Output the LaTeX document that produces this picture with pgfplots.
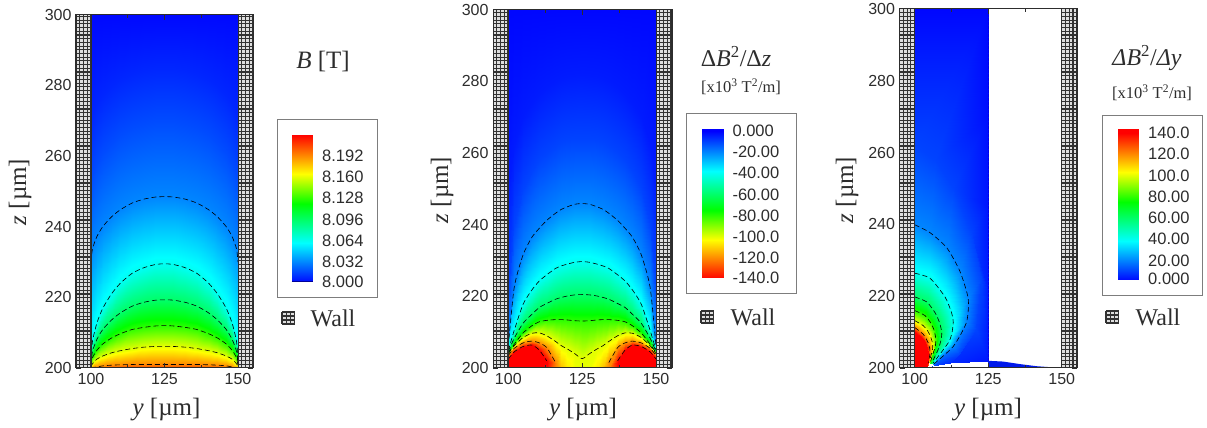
\documentclass[border=0pt]{standalone}
\usepackage{fontspec}
\setmainfont{Liberation Serif}
\newfontfamily\arial{Liberation Sans}
\usepackage{pgfplots}
\usepackage{pgfplotstable}
\pgfplotsset{compat=1.18}
\definecolor{ink}{RGB}{45,45,45}
\definecolor{cellc}{RGB}{222,222,222}
\definecolor{linec}{RGB}{50,50,50}
\definecolor{boxc}{RGB}{125,125,125}
\definecolor{lensc}{RGB}{0,25,235}
\definecolor{edgec}{RGB}{0,0,235}
\pgfplotsset{
  colormap={up}{rgb255(0)=(0,0,255) rgb255(38)=(0,255,255) rgb255(75)=(0,255,0) rgb255(103)=(255,255,0) rgb255(140)=(255,0,0)},
  colormap={down}{rgb255(0)=(255,0,0) rgb255(37)=(255,255,0) rgb255(65)=(0,255,0) rgb255(102)=(0,255,255) rgb255(140)=(0,0,255)},
  field/.style={scale only axis, anchor=south west, axis on top,
    xtick={100,125,150}, minor xtick={112.5,137.5},
    ytick={200,220,240,260,280,300}, ymin=200, ymax=300,
    tick pos=both, tick align=inside, xticklabel pos=bottom, yticklabel pos=left,
    major tick length=5pt, minor tick length=3pt,
    tick style={ink, line width=.7pt},
    axis line style={ink, line width=1pt},
    tick label style={font=\arial\fontsize{16}{16}\selectfont, text=ink},
    xticklabels={100,125,150}, yticklabels={200,220,240,260,280,300},
    xticklabel style={yshift=-2pt}, yticklabel style={xshift=-1pt}},
  bar/.style={scale only axis, anchor=south west, width=21pt, xmin=0, xmax=1,
    xtick=\empty, axis line style={draw=none}, tick style={draw=none},
    ytick pos=right, yticklabel pos=right,
    tick label style={font=\arial\fontsize{16.5}{16.5}\selectfont, text=ink},
    yticklabel style={anchor=west, xshift=6pt}},
  cont/.style={black, line width=.6pt, dash pattern=on 5pt off 3pt, smooth, tension=.4, no markers, forget plot}
}
\pgfplotstableread[row sep=\\]{
y z v\\
100 300 8.002\\ 100.5 300 8.002\\ 102 300 8.002\\ 104 300 8.002\\ 107 300 8.002\\ 110 300 8.002\\ 114 300 8.002\\ 118 300 8.002\\ 122 300 8.002\\ 125 300 8.002\\ 128 300 8.002\\ 132 300 8.002\\ 136 300 8.002\\ 140 300 8.002\\ 143 300 8.002\\ 146 300 8.002\\ 148 300 8.002\\ 149.5 300 8.002\\ 150 300 8.002\\
100 268 8.009\\ 100.5 271.4 8.009\\ 102 274.6 8.009\\ 104 277.2 8.009\\ 107 279.7 8.009\\ 110 281.6 8.009\\ 114 283.3 8.009\\ 118 284.3 8.009\\ 122 284.9 8.009\\ 125 285 8.009\\ 128 284.9 8.009\\ 132 284.3 8.009\\ 136 283.3 8.009\\ 140 281.6 8.009\\ 143 279.7 8.009\\ 146 277.2 8.009\\ 148 274.6 8.009\\ 149.5 271.4 8.009\\ 150 268 8.009\\
100 250 8.018\\ 100.5 254 8.018\\ 102 257.8 8.018\\ 104 260.8 8.018\\ 107 263.8 8.018\\ 110 266 8.018\\ 114 268 8.018\\ 118 269.2 8.018\\ 122 269.9 8.018\\ 125 270 8.018\\ 128 269.9 8.018\\ 132 269.2 8.018\\ 136 268 8.018\\ 140 266 8.018\\ 143 263.8 8.018\\ 146 260.8 8.018\\ 148 257.8 8.018\\ 149.5 254 8.018\\ 150 250 8.018\\
100 230 8.032\\ 100.5 233.7 8.032\\ 102 237.2 8.032\\ 104 240 8.032\\ 107 242.8 8.032\\ 110 244.8 8.032\\ 114 246.7 8.032\\ 118 247.8 8.032\\ 122 248.4 8.032\\ 125 248.5 8.032\\ 128 248.4 8.032\\ 132 247.8 8.032\\ 136 246.7 8.032\\ 140 244.8 8.032\\ 143 242.8 8.032\\ 146 240 8.032\\ 148 237.2 8.032\\ 149.5 233.7 8.032\\ 150 230 8.032\\
100 202 8.064\\ 100.5 207.5 8.064\\ 102 212.7 8.064\\ 104 216.9 8.064\\ 107 221 8.064\\ 110 224 8.064\\ 114 226.8 8.064\\ 118 228.4 8.064\\ 122 229.3 8.064\\ 125 229.5 8.064\\ 128 229.3 8.064\\ 132 228.4 8.064\\ 136 226.8 8.064\\ 140 224 8.064\\ 143 221 8.064\\ 146 216.9 8.064\\ 148 212.7 8.064\\ 149.5 207.5 8.064\\ 150 202 8.064\\
100 201 8.096\\ 100.5 204.7 8.096\\ 102 208.1 8.096\\ 104 210.9 8.096\\ 107 213.6 8.096\\ 110 215.6 8.096\\ 114 217.5 8.096\\ 118 218.6 8.096\\ 122 219.2 8.096\\ 125 219.3 8.096\\ 128 219.2 8.096\\ 132 218.6 8.096\\ 136 217.5 8.096\\ 140 215.6 8.096\\ 143 213.6 8.096\\ 146 210.9 8.096\\ 148 208.1 8.096\\ 149.5 204.7 8.096\\ 150 201 8.096\\
100 200.6 8.128\\ 100.5 202.9 8.128\\ 102 205 8.128\\ 104 206.8 8.128\\ 107 208.5 8.128\\ 110 209.7 8.128\\ 114 210.9 8.128\\ 118 211.5 8.128\\ 122 211.9 8.128\\ 125 212 8.128\\ 128 211.9 8.128\\ 132 211.5 8.128\\ 136 210.9 8.128\\ 140 209.7 8.128\\ 143 208.5 8.128\\ 146 206.8 8.128\\ 148 205 8.128\\ 149.5 202.9 8.128\\ 150 200.6 8.128\\
100 200.3 8.16\\ 100.5 201.2 8.16\\ 102 202.5 8.16\\ 104 203.4 8.16\\ 107 204.3 8.16\\ 110 204.9 8.16\\ 114 205.5 8.16\\ 118 205.9 8.16\\ 122 206.1 8.16\\ 125 206.1 8.16\\ 128 206.1 8.16\\ 132 205.9 8.16\\ 136 205.5 8.16\\ 140 204.9 8.16\\ 143 204.3 8.16\\ 146 203.4 8.16\\ 148 202.5 8.16\\ 149.5 201.2 8.16\\ 150 200.3 8.16\\
100 200.05 8.192\\ 100.5 200.1 8.192\\ 102 200.3 8.192\\ 104 200.6 8.192\\ 107 200.8 8.192\\ 110 200.9 8.192\\ 114 201 8.192\\ 118 201 8.192\\ 122 201 8.192\\ 125 201 8.192\\ 128 201 8.192\\ 132 201 8.192\\ 136 201 8.192\\ 140 200.9 8.192\\ 143 200.8 8.192\\ 146 200.6 8.192\\ 148 200.3 8.192\\ 149.5 200.1 8.192\\ 150 200.05 8.192\\
100 200 8.12\\ 100.5 200 8.16\\ 102 200 8.2\\ 104 200 8.208\\ 107 200 8.208\\ 110 200 8.208\\ 114 200 8.208\\ 118 200 8.208\\ 122 200 8.208\\ 125 200 8.208\\ 128 200 8.208\\ 132 200 8.208\\ 136 200 8.208\\ 140 200 8.208\\ 143 200 8.208\\ 146 200 8.208\\ 148 200 8.2\\ 149.5 200 8.16\\ 150 200 8.12\\
}\tA
\pgfplotstableread[row sep=\\]{
y z v\\
100 300 -1\\ 102 300 -1\\ 105 300 -1\\ 108 300 -1\\ 110.5 300 -1\\ 113 300 -1\\ 116 300 -1\\ 118 300 -1\\ 120 300 -1\\ 122.5 300 -1\\ 125 300 -1\\ 127.5 300 -1\\ 130 300 -1\\ 132 300 -1\\ 134 300 -1\\ 137 300 -1\\ 139.5 300 -1\\ 142 300 -1\\ 145 300 -1\\ 148 300 -1\\ 150 300 -1\\
100 250 -4\\ 102 262 -4\\ 105 270 -4\\ 108 274 -4\\ 110.5 276.5 -4\\ 113 278.5 -4\\ 116 280 -4\\ 118 281 -4\\ 120 281.5 -4\\ 122.5 281.9 -4\\ 125 282 -4\\ 127.5 281.9 -4\\ 130 281.5 -4\\ 132 281 -4\\ 134 280 -4\\ 137 278.5 -4\\ 139.5 276.5 -4\\ 142 274 -4\\ 145 270 -4\\ 148 262 -4\\ 150 250 -4\\
100 222 -10\\ 102 240 -10\\ 105 250 -10\\ 108 255 -10\\ 110.5 258 -10\\ 113 260 -10\\ 116 262 -10\\ 118 263 -10\\ 120 263.5 -10\\ 122.5 263.9 -10\\ 125 264 -10\\ 127.5 263.9 -10\\ 130 263.5 -10\\ 132 263 -10\\ 134 262 -10\\ 137 260 -10\\ 139.5 258 -10\\ 142 255 -10\\ 145 250 -10\\ 148 240 -10\\ 150 222 -10\\
100 206 -20\\ 102 222.5 -20\\ 105 231.6 -20\\ 108 236.5 -20\\ 110.5 239 -20\\ 113 241.2 -20\\ 116 243.2 -20\\ 118 244.3 -20\\ 120 245 -20\\ 122.5 245.7 -20\\ 125 245.9 -20\\ 127.5 245.7 -20\\ 130 245 -20\\ 132 244.3 -20\\ 134 243.2 -20\\ 137 241.2 -20\\ 139.5 239 -20\\ 142 236.5 -20\\ 145 231.6 -20\\ 148 222.5 -20\\ 150 206 -20\\
100 204.9 -40\\ 102 210.5 -40\\ 105 217.8 -40\\ 108 221.8 -40\\ 110.5 224.3 -40\\ 113 226 -40\\ 116 227.8 -40\\ 118 228.5 -40\\ 120 229 -40\\ 122.5 229.5 -40\\ 125 229.7 -40\\ 127.5 229.5 -40\\ 130 229 -40\\ 132 228.5 -40\\ 134 227.8 -40\\ 137 226 -40\\ 139.5 224.3 -40\\ 142 221.8 -40\\ 145 217.8 -40\\ 148 210.5 -40\\ 150 204.9 -40\\
100 204.6 -60\\ 102 208.3 -60\\ 105 212.5 -60\\ 108 215 -60\\ 110.5 216.9 -60\\ 113 218 -60\\ 116 219.2 -60\\ 118 219.7 -60\\ 120 220.1 -60\\ 122.5 220.4 -60\\ 125 220.5 -60\\ 127.5 220.4 -60\\ 130 220.1 -60\\ 132 219.7 -60\\ 134 219.2 -60\\ 137 218 -60\\ 139.5 216.9 -60\\ 142 215 -60\\ 145 212.5 -60\\ 148 208.3 -60\\ 150 204.6 -60\\
100 204.3 -80\\ 102 206.6 -80\\ 105 209.8 -80\\ 108 211.8 -80\\ 110.5 212.9 -80\\ 113 213.3 -80\\ 116 213.5 -80\\ 118 213.5 -80\\ 120 213.4 -80\\ 122.5 213.2 -80\\ 125 213.1 -80\\ 127.5 213.2 -80\\ 130 213.4 -80\\ 132 213.5 -80\\ 134 213.5 -80\\ 137 213.3 -80\\ 139.5 212.9 -80\\ 142 211.8 -80\\ 145 209.8 -80\\ 148 206.6 -80\\ 150 204.3 -80\\
100 204 -100\\ 102 206.2 -100\\ 105 208.5 -100\\ 108 209.7 -100\\ 110.5 209.8 -100\\ 113 209 -100\\ 116 207.4 -100\\ 118 206.2 -100\\ 120 205.3 -100\\ 122.5 204 -100\\ 125 202.6 -100\\ 127.5 204 -100\\ 130 205.3 -100\\ 132 206.2 -100\\ 134 207.4 -100\\ 137 209 -100\\ 139.5 209.8 -100\\ 142 209.7 -100\\ 145 208.5 -100\\ 148 206.2 -100\\ 150 204 -100\\
100 203.5 -120\\ 102 205.5 -120\\ 105 207 -120\\ 108 207.5 -120\\ 110.5 207 -120\\ 113 205.7 -120\\ 116 201.5 -120\\ 118 200.02 -112\\ 120 200.02 -106\\ 122.5 200.02 -101\\ 125 200.02 -100\\ 127.5 200.02 -101\\ 130 200.02 -106\\ 132 200.02 -112\\ 134 201.5 -120\\ 137 205.7 -120\\ 139.5 207 -120\\ 142 207.5 -120\\ 145 207 -120\\ 148 205.5 -120\\ 150 203.5 -120\\
100 202.5 -140\\ 102 204.5 -140\\ 105 206 -140\\ 108 206.4 -140\\ 110.5 205 -140\\ 113 202 -140\\ 116 200.02 -120\\ 118 200.01 -112\\ 120 200.01 -106\\ 122.5 200.01 -101\\ 125 200.01 -100\\ 127.5 200.01 -101\\ 130 200.01 -106\\ 132 200.01 -112\\ 134 200.02 -120\\ 137 202 -140\\ 139.5 205 -140\\ 142 206.4 -140\\ 145 206 -140\\ 148 204.5 -140\\ 150 202.5 -140\\
100 200 -140\\ 102 200 -140\\ 105 200 -140\\ 108 200 -140\\ 110.5 200 -140\\ 113 200 -140\\ 116 200 -120\\ 118 200 -112\\ 120 200 -106\\ 122.5 200 -101\\ 125 200 -100\\ 127.5 200 -101\\ 130 200 -106\\ 132 200 -112\\ 134 200 -120\\ 137 200 -140\\ 139.5 200 -140\\ 142 200 -140\\ 145 200 -140\\ 148 200 -140\\ 150 200 -140\\
}\tB
\pgfplotstableread[row sep=\\]{
y z v\\
100 300 1\\ 125 300 1\\ 125 270 2\\ 125 245 3\\ 125 222 4\\ 125 202 3\\ 112 201.4 6\\ 105.8 200.6 10\\
100 262 10\\ 107 258 10\\ 113 250 10\\ 119 238 10\\ 122.5 225 10\\ 121 211 10\\ 115 204 10\\ 107 200.8 10\\
100 239.9 20\\ 105.2 237.7 20\\ 110.9 233.5 20\\ 115.4 226.9 20\\ 118.2 219.3 20\\ 117.6 212.7 20\\ 113.1 206 20\\ 106.3 201 20\\
100 226.4 40\\ 105.2 225 40\\ 110.3 219.8 40\\ 112.5 215.5 40\\ 113.1 212.7 40\\ 112.6 209.5 40\\ 111.4 207 40\\ 106.3 201.4 40\\
100 219.8 60\\ 104.1 218.4 60\\ 107 215.3 60\\ 108.5 212.5 60\\ 109.2 209.9 60\\ 109 208 60\\ 108 205.2 60\\ 105.8 201.4 60\\
100 216 80\\ 103.5 214.6 80\\ 105.5 212.5 80\\ 106.6 210.5 80\\ 107.2 208 80\\ 107 206 80\\ 106.3 204.2 80\\ 105.2 201.4 80\\
100 213.2 100\\ 102.9 211.8 100\\ 104.5 210.2 100\\ 105.5 208.5 100\\ 106.1 206.8 100\\ 106.1 205.4 100\\ 105.7 204 100\\ 105.2 202.4 100\\
100 211.3 120\\ 102.9 209.4 120\\ 104 208 120\\ 104.6 207 120\\ 105.1 205.5 120\\ 105.2 204.2 120\\ 105 203 120\\ 104.6 201.4 120\\
100 209.9 140\\ 102 208.7 140\\ 102.9 208 140\\ 103.8 206.5 140\\ 104.3 205.7 140\\ 104.6 204 140\\ 104.6 202.8 140\\ 104.3 200 140\\
100 205 140\\ 100 202 140\\ 100 200.5 140\\ 100 200 140\\ 100.5 200 140\\ 101 200 140\\ 102 200 140\\ 103 200 140\\
}\tC
\newcommand\wall[3]{% x, top, bottom (px)
  \fill[cellc] (#1,#2) rectangle (#1+15.2,#3);
  \begin{scope}
  \clip (#1,#2) rectangle (#1+15.2,#3);
  \foreach \i in {0,...,4}{\draw[linec,line width=1.15pt] (#1+.2+\i*3.7,#2) -- (#1+.2+\i*3.7,#3);}
  \foreach \j in {0,...,96}{\draw[linec,line width=1.15pt] (#1,#3-\j*3.7) -- (#1+15.2,#3-\j*3.7);}
  \end{scope}
  \draw[ink,line width=1pt] (#1,#2) rectangle (#1+15.2,#3);
}
\newcommand\icon[2]{% x, y (px)
  \fill[cellc] (#1,#2) rectangle (#1+12.5,#2+12);
  \begin{scope}
  \foreach \i in {0,...,3}{\draw[linec,line width=1.1pt] (#1+\i*4.16,#2) -- (#1+\i*4.16,#2+12);}
  \foreach \j in {0,...,3}{\draw[linec,line width=1.1pt] (#1,#2+\j*4) -- (#1+12.5,#2+\j*4);}
  \end{scope}
}
\newcommand\wallname[2]{\node[text=ink,font=\fontsize{24}{24}\selectfont] at (#1,#2) {Wall};}
\newcommand\lab[3][0]{\node[text=ink,rotate=#1,font=\fontsize{25}{25}\selectfont] at (#2) {#3};}
\begin{document}
\begin{tikzpicture}
\path[use as bounding box] (0,0) rectangle (1207pt,428pt);
% ---------------- panel 1
\begin{axis}[field, at={(76pt,60pt)}, width=177pt, height=353.3pt, xmin=94.9, xmax=155.1,
  colormap name=up, point meta min=8.0, point meta max=8.224]
\addplot[surf, shader=interp, mesh/cols=19, point meta=\thisrow{v}] table[x=y,y=z] {\tA};
\addplot[cont, skip coords between index={0}{57}, skip coords between index={76}{190}] table[x=y,y=z] {\tA};
\addplot[cont, skip coords between index={0}{76}, skip coords between index={95}{190}] table[x=y,y=z] {\tA};
\addplot[cont, skip coords between index={0}{95}, skip coords between index={114}{190}] table[x=y,y=z] {\tA};
\addplot[cont, skip coords between index={0}{114}, skip coords between index={133}{190}] table[x=y,y=z] {\tA};
\addplot[cont, skip coords between index={0}{133}, skip coords between index={152}{190}] table[x=y,y=z] {\tA};
\addplot[cont, skip coords between index={0}{152}, skip coords between index={171}{190}] table[x=y,y=z] {\tA};
\end{axis}
% ---------------- panel 2
\begin{axis}[field, at={(493pt,60pt)}, width=179pt, height=358.3pt, xmin=94.82, xmax=155.4,
  colormap name=down, point meta min=-140, point meta max=0]
\addplot[surf, shader=interp, mesh/cols=21, point meta=\thisrow{v}] table[x=y,y=z] {\tB};
\addplot[cont, skip coords between index={0}{63}, skip coords between index={84}{231}] table[x=y,y=z] {\tB};
\addplot[cont, skip coords between index={0}{84}, skip coords between index={105}{231}] table[x=y,y=z] {\tB};
\addplot[cont, skip coords between index={0}{105}, skip coords between index={126}{231}] table[x=y,y=z] {\tB};
\addplot[cont, skip coords between index={0}{126}, skip coords between index={147}{231}] table[x=y,y=z] {\tB};
\addplot[cont, skip coords between index={0}{147}, skip coords between index={168}{231}] table[x=y,y=z] {\tB};
\addplot[cont, skip coords between index={0}{168}, skip coords between index={175}{231}] table[x=y,y=z] {\tB};
\addplot[cont, skip coords between index={0}{182}, skip coords between index={189}{231}] table[x=y,y=z] {\tB};
\addplot[cont, skip coords between index={0}{189}, skip coords between index={195}{231}] table[x=y,y=z] {\tB};
\addplot[cont, skip coords between index={0}{204}, skip coords between index={210}{231}] table[x=y,y=z] {\tB};
\end{axis}
% ---------------- panel 3
\begin{axis}[field, at={(899.5pt,60pt)}, width=177.5pt, height=359pt, xmin=94.83, xmax=155.2,
  colormap name=up, point meta min=0, point meta max=140]
\addplot[surf, shader=interp, mesh/cols=8, point meta=\thisrow{v}] table[x=y,y=z] {\tC};
\addplot[cont, skip coords between index={0}{16}, skip coords between index={24}{80}] table[x=y,y=z] {\tC};
\addplot[cont, skip coords between index={0}{24}, skip coords between index={32}{80}] table[x=y,y=z] {\tC};
\addplot[cont, skip coords between index={0}{32}, skip coords between index={40}{80}] table[x=y,y=z] {\tC};
\addplot[cont, skip coords between index={0}{40}, skip coords between index={48}{80}] table[x=y,y=z] {\tC};
\addplot[cont, skip coords between index={0}{48}, skip coords between index={56}{80}] table[x=y,y=z] {\tC};
\addplot[cont, skip coords between index={0}{56}, skip coords between index={64}{80}] table[x=y,y=z] {\tC};
\addplot[fill=lensc, draw=none, forget plot] coordinates {(125,200.2) (125,202) (130,201.8) (135.7,201.1) (141.4,200.5) (148.2,200.1)} \closedcycle;
\addplot[edgec, line width=.8pt, dash pattern=on 2.5pt off 1.5pt, forget plot] coordinates {(125,202) (125,300)};
\end{axis}
% ---------------- colour bars
\begin{scope}[x=1pt,y=-1pt,yshift=428pt]
\fill[white,draw=boxc,line width=.9pt] (277.3,119) rectangle (377.7,297);
\fill[white,draw=boxc,line width=.9pt] (686.7,113) rectangle (796.7,293);
\fill[white,draw=boxc,line width=.9pt] (1102.7,115) rectangle (1202.7,295.7);
\end{scope}
\begin{axis}[bar, at={(291.7pt,146.3pt)}, height=146.7pt, ymin=8.002, ymax=8.2234,
  colormap name=up, point meta min=8.0, point meta max=8.224,
  ytick={8.032,8.064,8.096,8.128,8.16,8.192,8.002},
  yticklabels={8.032,8.064,8.096,8.128,8.160,8.192,8.000},
  y tick label style={/pgf/number format/fixed}]
\addplot[surf, shader=interp, mesh/cols=2, point meta=explicit] coordinates {(0,8.002) [8.002] (1,8.002) [8.002] (0,8.2234) [8.2234] (1,8.2234) [8.2234]};
\end{axis}
\begin{axis}[bar, at={(702pt,150pt)}, height=149.3pt, ymin=-139, ymax=2.2,
  colormap name=down, point meta min=-140, point meta max=0,
  ytick={0,-20,-40,-60,-80,-100,-120,-139},
  yticklabels={0.000,-20.00,-40.00,-60.00,-80.00,-100.0,-120.0,-140.0}]
\addplot[surf, shader=interp, mesh/cols=2, point meta=explicit] coordinates {(0,-139) [-139] (1,-139) [-139] (0,0) [0] (1,0) [0] (0,2.2) [0] (1,2.2) [0]};
\end{axis}
\begin{axis}[bar, at={(1117.7pt,148.7pt)}, height=150pt, ymin=2.26, ymax=143.4,
  colormap name=up, point meta min=0, point meta max=140,
  ytick={2.26,20,40,60,80,100,120,140},
  yticklabels={0.000,20.00,40.00,60.00,80.00,100.0,120.0,140.0}]
\addplot[surf, shader=interp, mesh/cols=2, point meta=explicit] coordinates {(0,2.26) [2.26] (1,2.26) [2.26] (0,140) [140] (1,140) [140] (0,143.4) [140] (1,143.4) [140]};
\end{axis}
% ---------------- walls, titles, labels
\begin{scope}[x=1pt,y=-1pt,yshift=428pt]
\wall{76}{14.7}{368}\wall{238}{14.7}{368}
\wall{493}{9.7}{368}\wall{656}{9.7}{368}
\wall{899.5}{9}{368}\wall{1061.7}{9}{368}
\icon{282}{312}\icon{701}{311}\icon{1106}{311}
\wallname{333}{318}\wallname{753}{317}\wallname{1158}{317}
\draw[blue!60!black,line width=.8pt] (291.7,281.4) -- (312.7,281.4);
\lab[90]{20,192}{\textit{z} [µm]}
\lab[90]{442,190}{\textit{z} [µm]}
\lab[90]{847,190}{\textit{z} [µm]}
\lab{166.5,410}{\textit{y} [µm]}
\lab{583,410}{\textit{y} [µm]}
\lab{988,410}{\textit{y} [µm]}
\lab{323,62}{\textit{B} [T]}
\node[text=ink,font=\fontsize{24}{24}\selectfont] at (736,57) {Δ\textit{B}\textsuperscript{2}/Δ\textit{z}};
\node[text=ink,font=\fontsize{24}{24}\selectfont] at (1147,58) {\textit{Δ}\textit{B}\textsuperscript{2}/\textit{Δ}\textit{y}};
\node[text=ink,font=\fontsize{16.5}{16.5}\selectfont] at (741,87) {[x10\textsuperscript{3} T\textsuperscript{2}/m]};
\node[text=ink,font=\fontsize{16.5}{16.5}\selectfont] at (1152,93) {[x10\textsuperscript{3} T\textsuperscript{2}/m]};
\end{scope}
\end{tikzpicture}
\end{document}
